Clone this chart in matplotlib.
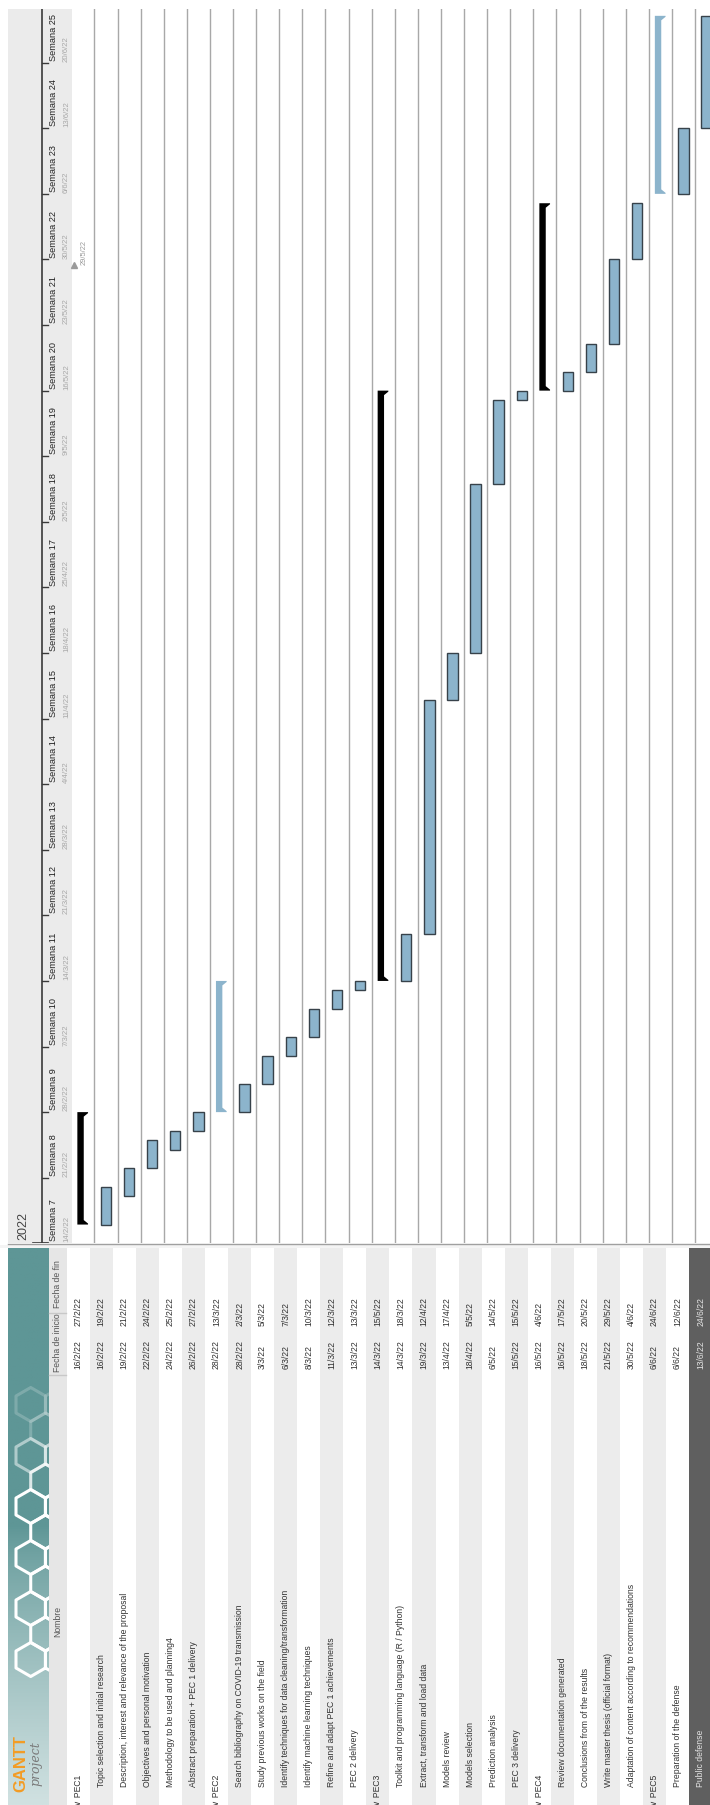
import matplotlib
matplotlib.use('Agg')
import matplotlib.pyplot as plt
import matplotlib.dates as mdates
from matplotlib.patches import Polygon, Rectangle
from matplotlib.colors import to_rgb
from datetime import date, timedelta
import numpy as np

plt.rcParams['font.family'] = ['Liberation Sans', 'DejaVu Sans']

# task list, top to bottom in the original GanttProject view
names = ['PEC1', 'Topic selection and initial research',
         'Description, interest and relevance of the proposal',
         'Objectives and personal motivation', 'Methodology to be used and planning4',
         'Abstract preparation + PEC 1 delivery',
         'PEC2', 'Search bibliography on COVID-19 transmission',
         'Study previous works on the field',
         'Identify techniques for data cleaning/transformation',
         'Identify machine learning techniques', 'Refine and adapt PEC 1 achievements',
         'PEC 2 delivery',
         'PEC3', 'Toolkit and programming language (R / Python)',
         'Extract, transform and load data', 'Models review', 'Models selection',
         'Prediction analysis', 'PEC 3 delivery',
         'PEC4', 'Review documentation generated', 'Conclusions from of the results',
         'Write master thesis (official format)',
         'Adaptation of content according to recommendations',
         'PEC5', 'Preparation of the defense', 'Public defense']
starts = ['16/2/22', '16/2/22', '19/2/22', '22/2/22', '24/2/22', '26/2/22',
          '28/2/22', '28/2/22', '3/3/22', '6/3/22', '8/3/22', '11/3/22', '13/3/22',
          '14/3/22', '14/3/22', '19/3/22', '13/4/22', '18/4/22', '6/5/22', '15/5/22',
          '16/5/22', '16/5/22', '18/5/22', '21/5/22', '30/5/22',
          '6/6/22', '6/6/22', '13/6/22']
ends = ['27/2/22', '19/2/22', '21/2/22', '24/2/22', '25/2/22', '27/2/22',
        '13/3/22', '2/3/22', '5/3/22', '7/3/22', '10/3/22', '12/3/22', '13/3/22',
        '15/5/22', '18/3/22', '12/4/22', '17/4/22', '5/5/22', '14/5/22', '15/5/22',
        '4/6/22', '17/5/22', '20/5/22', '29/5/22', '4/6/22',
        '24/6/22', '12/6/22', '24/6/22']
# summary rows and their bracket colour
summary_color = {0: 'black', 6: '#8cb4cc', 13: 'black', 20: 'black', 25: '#8cb4cc'}
selected_row = 27

first_week = 7
n_weeks = 19
week_start = date(2022, 2, 14)
marker_date = '29/5/22'
year_label = '2022'


def parse(s):
    d, m, y = s.split('/')
    return date(2000 + int(y), int(m), int(d))


def short(d):
    return f'{d.day}/{d.month}/{d.year % 100}'


W, H = 710, 1805
fig = plt.figure(figsize=(W / 100, H / 100), dpi=100)


def rect(x0, y0, x1, y1):
    return [x0 / W, 1 - y1 / H, (x1 - x0) / W, (y1 - y0) / H]


TXT = '#333333'
FS = 6.2

# background / decoration in pixel coordinates
bg = fig.add_axes([0, 0, 1, 1])
bg.set_xlim(0, W)
bg.set_ylim(H, 0)
bg.axis('off')
bg.add_patch(Rectangle((8, 9), 64, 1234.3, color='#ebebeb', lw=0))
bg.plot([8, W], [1243.5, 1243.5], color='#a0a0a0', lw=1)
bg.add_patch(Rectangle((0, 1245), W, 3, color='#f4f4f4', lw=0))

# logo panel (teal gradient with honeycomb)
teal = np.array(to_rgb('#5e9696'))
light = np.array(to_rgb('#d0e1e1'))
ys = np.linspace(0, 1, 200)
t = np.clip((ys - 0.5) / 0.5, 0, 1)[:, None] ** 0.8
grad = (teal * (1 - t) + light * t)[:, None, :]
bg.imshow(grad, extent=[8, 49, 1805, 1248], aspect='auto', zorder=1)
clip = Rectangle((8, 1248), 41, 557, transform=bg.transData)
r = 17.0
ang = np.linspace(0, 2 * np.pi, 7) + np.pi / 6
for col in range(0, 3):
    for row in range(-1, 10):
        cx = 16 + col * np.sqrt(3) * r + (row % 2) * np.sqrt(3) * r / 2
        cy = 1430 + row * 1.5 * r
        if cy > 1715 or cx < 22:
            continue
        a = float(np.clip((cy - 1410) / 90, 0.2, 1.0))
        h_, = bg.plot(cx + r * np.cos(ang), cy + r * np.sin(ang), color='white',
                      lw=2.2, alpha=a, zorder=2, solid_joinstyle='round')
        h_.set_clip_path(clip)
bg.text(21, 1792, 'GANTT', rotation=90, ha='center', va='bottom', fontsize=12,
        fontweight='bold', color='#f39c24', zorder=3)
bg.text(36, 1786, 'project', rotation=90, ha='center', va='bottom', fontsize=9,
        family='DejaVu Serif', style='italic', color='#7a7a7a', zorder=3)
bg.add_patch(Rectangle((49, 1248), 17.7, 557, color='#e6e6e6', lw=0))

# ---- chart ----
row0_px, pitch = 71.3, 23.1
px_day = 9.37
y0 = mdates.date2num(week_start)
y1 = y0 + (1243.3 - 9) / px_day
ax = fig.add_axes(rect(72, 9, W, 1243.3))
ax.set_xlim((72 - row0_px) / pitch, (72 - row0_px) / pitch + (W - 72) / pitch)
ax.set_ylim(y0, y1)
ax.axis('off')
ax.patch.set_alpha(0)

for i in range(1, len(names) + 1):
    ax.axvline(i, color='#a8a8a8', lw=1, zorder=1)

sd = mdates.date2num([parse(s) for s in starts])
ed = mdates.date2num([parse(e) + timedelta(days=1) for e in ends])
px_x = 1 / pitch
px_y = 1 / px_day
for i in range(len(names)):
    c = i + 0.5
    if i in summary_color:
        xl, xb, xr = c - 5.5 * px_x, c + 0.9 * px_x, c + 5.2 * px_x
        s, e = sd[i], ed[i]
        pts = [(xl, s), (xr, s), (xr, s + 1 * px_y), (xb, s + 4.5 * px_y),
               (xb, e - 4.5 * px_y), (xr, e - 1 * px_y), (xr, e), (xl, e)]
        ax.add_patch(Polygon(pts, closed=True, color=summary_color[i], lw=0, zorder=3))
    else:
        ax.bar(c, ed[i] - sd[i], bottom=sd[i], width=0.45, color='#8cb4cc',
               edgecolor='#37424a', lw=1, zorder=3)

md = mdates.date2num(parse(marker_date)) + 0.4
ax.plot(0.13, md, marker='^', ms=4, color='#9a9a9a', clip_on=False, zorder=4)
ax.text(0.57, md, marker_date, rotation=90, ha='center', va='bottom', fontsize=5.4,
        color='#9a9a9a', zorder=4)

# ---- timeline header ----
hx = fig.add_axes(rect(8, 9, 72, 1243.3))
hx.set_xlim(8, 72)
hx.set_ylim(y0, y1)
hx.axis('off')
hx.patch.set_alpha(0)
hx.plot([42, 42], [y0, y1], color='#3a3a3a', lw=1.2)
hx.plot([33, 48], [y0, y0], color='#3a3a3a', lw=1.2)
for k in range(n_weeks):
    d = week_start + timedelta(days=7 * k)
    yk = mdates.date2num(d)
    hx.plot([42, 48], [yk, yk], color='#3a3a3a', lw=1)
    hx.text(53.3, yk + 0.2, f'Semana {first_week + k}', rotation=90, ha='center',
            va='bottom', fontsize=6.6, color='#222222')
    hx.text(66.5, yk + 0.1, short(d), rotation=90, ha='center', va='bottom',
            fontsize=5.6, color='#a8a8a8')
hx.text(23, y0 + 0.3, year_label, rotation=90, ha='center', va='bottom',
        fontsize=9, color='#444444')

# ---- task table ----
trow0, tpitch = 66.7, 23.05
tx = fig.add_axes(rect(0, 1248, W, 1805))
tx.set_xlim(-trow0 / tpitch, (W - trow0) / tpitch)
tx.set_ylim(1805, 1248)
tx.axis('off')
tx.patch.set_alpha(0)

hdr_x = (57.5 - trow0) / tpitch
for label, yc in [('Nombre', 1621), ('Fecha de inicio', 1343), ('Fecha de fin', 1284)]:
    tx.text(hdr_x, yc, label, rotation=90, ha='center', va='center', fontsize=FS,
            color='#555555')
for yb in [1313, 1375]:
    tx.plot([hdr_x - 0.35, hdr_x + 0.35], [yb, yb], color='#c8c8c8', lw=1)

for i, name in enumerate(names):
    if i == selected_row:
        fc, col = '#5f5f5f', '#e4e4e4'
    elif i % 2 == 1:
        fc, col = '#ececec', TXT
    else:
        fc, col = 'white', TXT
    tx.axvspan(i, i + 1, color=fc, lw=0, zorder=0)
    c = i + 0.5
    if i in summary_color:
        tx.text(c, 1806, '∨ ' + name, rotation=90, ha='center', va='bottom',
                fontsize=FS, color=col, clip_on=True)
    else:
        tx.text(c, 1787, name, rotation=90, ha='center', va='bottom',
                fontsize=FS, color=col)
    tx.text(c, 1369, starts[i], rotation=90, ha='center', va='bottom',
            fontsize=FS, color=col)
    tx.text(c, 1326, ends[i], rotation=90, ha='center', va='bottom',
            fontsize=FS, color=col)

fig.savefig('out.png', dpi=100)
